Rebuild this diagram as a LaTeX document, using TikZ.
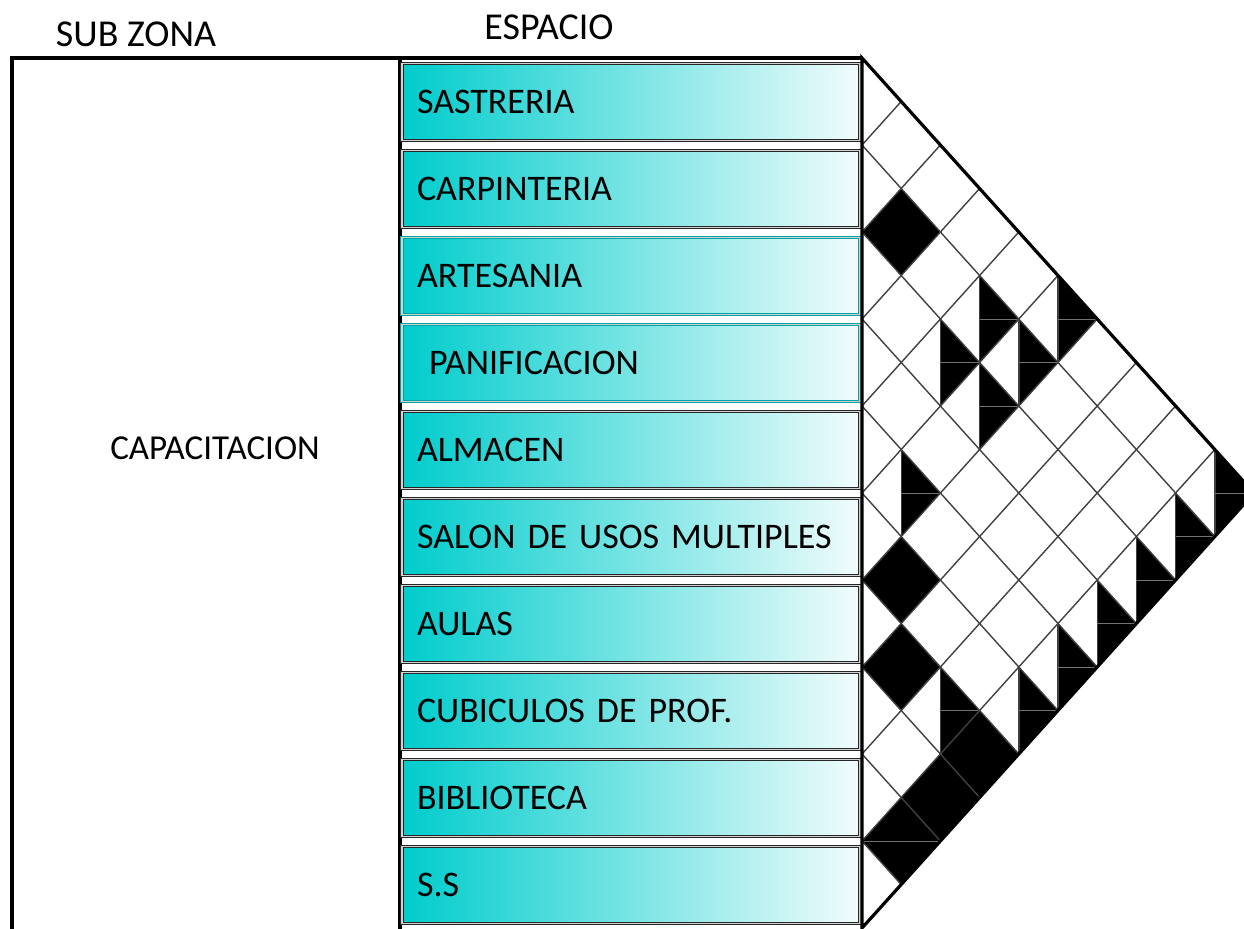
\documentclass[tikz,border=0pt]{standalone}
\usepackage{fontspec}
\setmainfont{Carlito}
\usetikzlibrary{positioning}
\definecolor{boxcyan}{RGB}{0,204,204}
\definecolor{boxpale}{RGB}{242,252,252}

\begin{document}
\begin{tikzpicture}[
  x=0.5pt, y=-0.5pt,
  header/.style={font=\fontsize{19}{22}\selectfont},
  spacebox/.style={rectangle, draw=black!85, double=gray!35, double distance=0.8pt,
    line width=0.55pt, left color=boxcyan, right color=boxpale,
    minimum height=38.5pt, text width=214pt, inner xsep=7.5pt, align=left,
    font=\fontsize{18}{21}\selectfont},
  cyanbox/.style={spacebox, draw=boxcyan!80!black},
  gridline/.style={draw=black!75, line width=0.7pt},
  outline/.style={draw=black, line width=1.6pt},
]
\useasboundingbox (0,0) rectangle (1244,928);
\clip (0,0) rectangle (1244,928);

% headers
\node[header] (subzona) at (136,34) {SUB ZONA};
\node[header] (espacio) at (549,27) {ESPACIO};

% sub zona column
\draw[outline] (12,935) -- (12,58) -- (862,58);
\draw[outline] (400,58) -- (400,935);
\node[font=\fontsize{17.5}{21}\selectfont] (capacitacion) at (215,448) {CAPACITACION};

% espacios
\node[spacebox] (sastreria) at (631,102) {SASTRERIA};
\node[spacebox] (carpinteria) at (631,189) {CARPINTERIA};
\node[cyanbox] (artesania) at (631,276) {ARTESANIA};
\node[cyanbox] (panificacion) at (631,363) {\ PANIFICACION};
\node[spacebox] (almacen) at (631,450) {ALMACEN};
\node[spacebox] (salon) at (631,537) {SALON DE USOS MULTIPLES};
\node[spacebox] (aulas) at (631,624) {AULAS};
\node[spacebox] (cubiculos) at (631,711) {CUBICULOS DE PROF.};
\node[spacebox] (biblioteca) at (631,798) {BIBLIOTECA};
\node[spacebox] (ss) at (631,885) {S.S};

% matrix: full relations
\foreach \i/\j in {1/2,5/6,6/7,6/9,7/9,8/9}{
  \pgfmathsetmacro\cx{862+39.2*(\j-\i)}
  \pgfmathsetmacro\cy{58+43.5*(\i+\j+1)}
  \fill (\cx-39.2,\cy) -- (\cx,\cy-43.5) -- (\cx+39.2,\cy) -- (\cx,\cy+43.5) -- cycle;
}
% matrix: half relations
\foreach \i/\j in {0/5,1/4,1/5,2/4,2/5,4/5,6/8,0/9,1/9,2/9,3/9,4/9,5/9}{
  \pgfmathsetmacro\cx{862+39.2*(\j-\i)}
  \pgfmathsetmacro\cy{58+43.5*(\i+\j+1)}
  \fill (\cx,\cy-43.5) -- (\cx+39.2,\cy) -- (\cx,\cy+43.5) -- cycle;
  \draw[gridline] (\cx,\cy-43.5) -- (\cx,\cy+43.5);
  \draw[draw=black!55, line width=0.4pt] (\cx,\cy) -- (\cx+39.2,\cy);
}
\draw[draw=black!55, line width=0.4pt] (862,841) -- (940,841);

% grid
\foreach \m in {1,...,9}{
  \draw[gridline] (862,{58+87*\m}) -- ({862+39.2*(10-\m)},{58+43.5*(10+\m)});
  \draw[gridline] (862,{58+87*\m}) -- ({862+39.2*\m},{58+43.5*\m});
}
\draw[outline] (862,58) -- (1254,493) -- (862,928) -- cycle;

\end{tikzpicture}
\end{document}
